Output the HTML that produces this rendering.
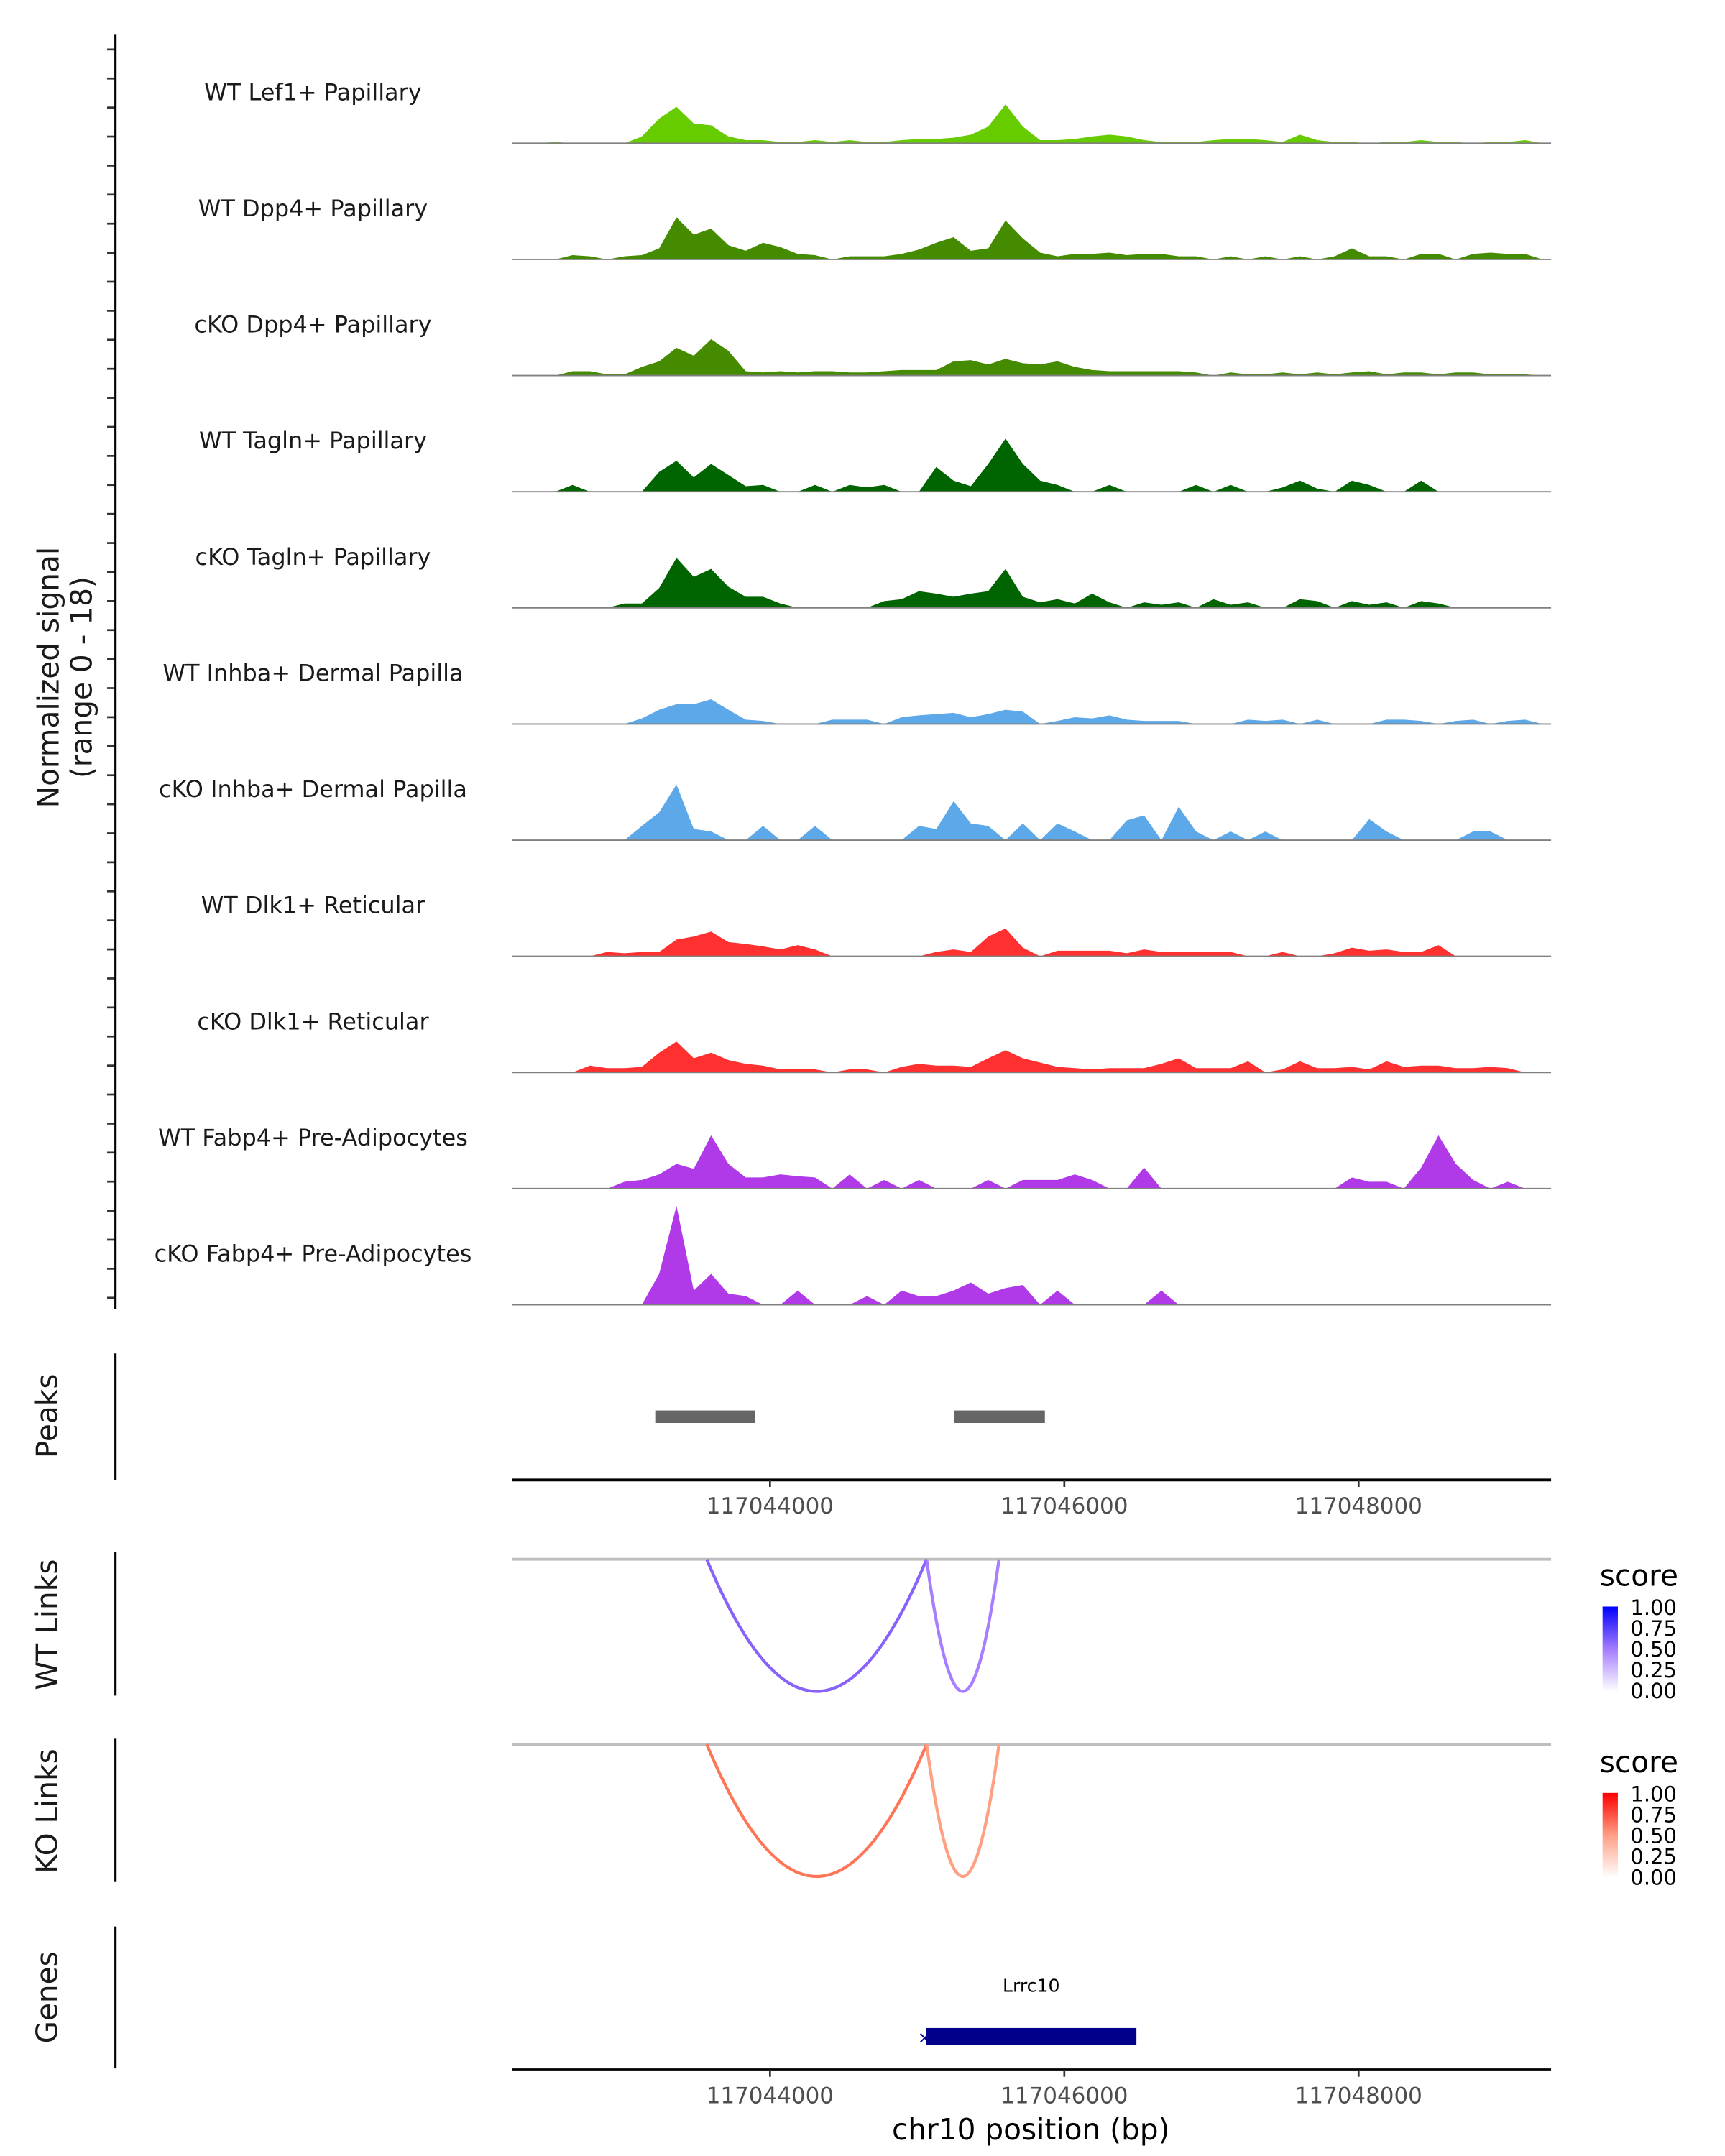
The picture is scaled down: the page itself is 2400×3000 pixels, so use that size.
<!DOCTYPE html>
<html><head><meta charset="utf-8"><style>
html,body{margin:0;padding:0;background:#fff}
svg{display:block}
text{font-family:"DejaVu Sans","Liberation Sans",sans-serif}
</style></head><body>
<svg id="chart" width="2400" height="3000" viewBox="0 0 1240 1550" xmlns="http://www.w3.org/2000/svg">
<g id="tracks"></g>
<g id="static">
 <line x1="83" y1="25" x2="83" y2="941" stroke="#000" stroke-width="1.6"/>
 <text transform="translate(42,487) rotate(-90)" text-anchor="middle" font-size="21" fill="#1a1a1a">Normalized signal</text>
 <text transform="translate(66,487) rotate(-90)" text-anchor="middle" font-size="21" fill="#1a1a1a">(range 0 - 18)</text>
 <line x1="83" y1="973" x2="83" y2="1064" stroke="#000" stroke-width="1.6"/>
 <text transform="translate(41,1018) rotate(-90)" text-anchor="middle" font-size="21" fill="#1a1a1a">Peaks</text>
 <line x1="83" y1="1116" x2="83" y2="1219" stroke="#000" stroke-width="1.6"/>
 <text transform="translate(41,1168) rotate(-90)" text-anchor="middle" font-size="21" fill="#1a1a1a">WT Links</text>
 <line x1="83" y1="1250" x2="83" y2="1353" stroke="#000" stroke-width="1.6"/>
 <text transform="translate(41,1302) rotate(-90)" text-anchor="middle" font-size="21" fill="#1a1a1a">KO Links</text>
 <line x1="83" y1="1385" x2="83" y2="1487" stroke="#000" stroke-width="1.6"/>
 <text transform="translate(41,1436) rotate(-90)" text-anchor="middle" font-size="21" fill="#1a1a1a">Genes</text>
 <line x1="368" y1="1121" x2="1115" y2="1121" stroke="#bebebe" stroke-width="2"/>
 <line x1="368" y1="1254" x2="1115" y2="1254" stroke="#bebebe" stroke-width="2"/>
 <line x1="368" y1="1064" x2="1115" y2="1064" stroke="#000" stroke-width="2"/>
 <line x1="368" y1="1488" x2="1115" y2="1488" stroke="#000" stroke-width="2"/>
 <text x="741" y="1538" text-anchor="middle" font-size="21" fill="#000">chr10 position (bp)</text>
 <defs>
  <linearGradient id="gBlue" x1="0" y1="1" x2="0" y2="0"><stop offset="0" stop-color="#ffffff"/><stop offset="0.5" stop-color="#a47cff"/><stop offset="1" stop-color="#0000ff"/></linearGradient>
  <linearGradient id="gRed" x1="0" y1="1" x2="0" y2="0"><stop offset="0" stop-color="#ffffff"/><stop offset="0.5" stop-color="#ff9f85"/><stop offset="1" stop-color="#ff0000"/></linearGradient>
 </defs>
 <g>
  <text x="1150" y="1140" font-size="21" fill="#000">score</text>
  <rect x="1152" y="1155" width="11" height="61" fill="url(#gBlue)"/>
  <g font-size="15" fill="#000"><text x="1172" y="1161">1.00</text><text x="1172" y="1176">0.75</text><text x="1172" y="1191">0.50</text><text x="1172" y="1206">0.25</text><text x="1172" y="1221">0.00</text></g>
 </g>
 <g>
  <text x="1150" y="1274" font-size="21" fill="#000">score</text>
  <rect x="1152" y="1289" width="11" height="61" fill="url(#gRed)"/>
  <g font-size="15" fill="#000"><text x="1172" y="1295">1.00</text><text x="1172" y="1310">0.75</text><text x="1172" y="1325">0.50</text><text x="1172" y="1340">0.25</text><text x="1172" y="1355">0.00</text></g>
 </g>
</g>
<g id="dyn"></g>
</svg>
<script>
const NS="http://www.w3.org/2000/svg";
const trackNames=["WT Lef1+ Papillary","WT Dpp4+ Papillary","cKO Dpp4+ Papillary","WT Tagln+ Papillary","cKO Tagln+ Papillary","WT Inhba+ Dermal Papilla","cKO Inhba+ Dermal Papilla","WT Dlk1+ Reticular","cKO Dlk1+ Reticular","WT Fabp4+ Pre-Adipocytes","cKO Fabp4+ Pre-Adipocytes"];
const trackColors=["#66cc00","#458b00","#458b00","#006400","#006400","#5ca8e8","#5ca8e8","#ff3030","#ff3030","#b03ae8","#b03ae8"];
const sigLef1WT=[0,0,0.2,0,0,0,0,1.1,4,5.9,3.2,2.9,1.1,0.5,0.5,0.2,0.2,0.5,0.2,0.5,0.2,0.2,0.5,0.7,0.7,0.9,1.4,2.7,6.3,2.7,0.5,0.5,0.7,1.1,1.4,1.1,0.5,0.2,0.2,0.2,0.5,0.7,0.7,0.5,0.2,1.4,0.5,0.2,0.2,0,0.2,0.2,0.5,0.2,0.2,0,0.2,0.2,0.5,0];
const sigDpp4WT=[0,0,0,0.7,0.5,0,0.5,0.7,1.8,6.8,4,5,2.3,1.4,2.7,2,0.9,0.7,0,0.5,0.5,0.5,0.9,1.6,2.7,3.6,1.4,1.8,6.3,3.4,1.1,0.5,0.9,0.9,1.1,0.7,0.9,0.9,0.5,0.5,0,0.5,0,0.5,0,0.5,0,0.5,1.8,0.5,0.5,0,0.9,0.9,0,0.9,1.1,0.9,0.9,0];
const sigDpp4KO=[0,0,0,0.7,0.7,0.2,0.2,1.4,2.3,4.5,3.2,5.9,4,0.7,0.5,0.7,0.5,0.7,0.7,0.5,0.5,0.7,0.9,0.9,0.9,2.3,2.5,1.8,2.7,2,1.8,2.3,1.4,0.9,0.7,0.7,0.7,0.7,0.7,0.5,0,0.5,0.2,0.2,0.5,0.2,0.5,0.2,0.5,0.7,0.2,0.5,0.5,0.2,0.5,0.5,0.2,0.2,0.2,0];
const sigTaglnWT=[0,0,0,1.1,0,0,0,0,3.2,5,2.3,4.5,2.7,0.9,1.1,0,0,1.1,0,1.1,0.7,1.1,0,0,4,1.8,0.9,4.5,8.6,4.5,1.8,1.1,0,0,1.1,0,0,0,0,1.1,0,1.1,0,0,0.7,1.8,0.5,0,1.8,1.1,0,0,1.8,0,0,0,0,0,0,0];
const sigTaglnKO=[0,0,0,0,0,0,0.7,0.7,3.2,8.1,5,6.3,3.4,1.8,1.8,0.7,0,0,0,0,0,1.1,1.4,2.7,2.3,1.8,2.3,2.7,6.3,1.8,0.9,1.4,0.7,2.3,0.9,0,0.9,0.5,0.9,0,1.4,0.5,0.9,0,0,1.4,1.1,0,1.1,0.5,0.9,0,1.1,0.7,0,0,0,0,0,0];
const sigInhbaWT=[0,0,0,0,0,0,0,0.9,2.3,3.2,3.2,4,2.3,0.7,0.5,0,0,0,0.7,0.7,0.7,0,1.1,1.4,1.6,1.8,1.1,1.6,2.3,2,0,0.5,1.1,0.9,1.4,0.7,0.5,0.5,0.5,0,0,0,0.7,0.5,0.7,0,0.7,0,0,0,0.7,0.7,0.5,0,0.5,0.7,0,0.5,0.7,0];
const sigInhbaKO=[0,0,0,0,0,0,0,2.3,4.5,9,1.8,1.4,0,0,2.3,0,0,2.3,0,0,0,0,0,2.3,1.8,6.3,2.7,2.3,0,2.7,0,2.7,1.4,0,0,3.2,4,0,5.4,1.4,0,1.4,0,1.4,0,0,0,0,0,3.4,1.4,0,0,0,0,1.4,1.4,0,0,0];
const sigDlk1WT=[0,0,0,0,0,0.7,0.5,0.7,0.7,2.7,3.2,4,2.3,2,1.6,1.1,1.8,1.1,0,0,0,0,0,0,0.7,1.1,0.7,3.2,4.5,1.4,0,0.9,0.9,0.9,0.9,0.5,1.1,0.7,0.7,0.7,0.7,0.7,0,0,0.7,0,0,0.5,1.4,0.9,1.1,0.7,0.7,1.8,0,0,0,0,0,0];
const sigDlk1KO=[0,0,0,0,1.1,0.7,0.7,0.9,3.2,5,2.3,3.2,2,1.4,1.1,0.5,0.5,0.5,0,0.5,0.5,0,0.9,1.4,1.1,1.1,0.9,2.3,3.6,2.3,1.6,0.9,0.7,0.5,0.7,0.7,0.7,1.4,2.3,0.7,0.7,0.7,1.8,0,0.5,1.8,0.7,0.7,0.9,0.5,1.8,0.9,1.1,1.1,0.7,0.7,0.9,0.7,0,0];
const sigFabp4WT=[0,0,0,0,0,0,1.1,1.4,2.3,4,3.2,8.6,4,1.8,1.8,2.3,2,1.8,0,2.3,0,1.4,0,1.4,0,0,0,1.4,0,1.4,1.4,1.4,2.3,1.4,0,0,3.4,0,0,0,0,0,0,0,0,0,0,0,1.8,1.1,1.1,0,3.4,8.6,4,1.4,0,1.1,0,0];
const sigFabp4KO=[0,0,0,0,0,0,0,0,5,16,2.3,5,1.8,1.4,0,0,2.3,0,0,0,1.4,0,2.3,1.4,1.4,2.3,3.6,1.8,2.7,3.2,0,2.3,0,0,0,0,0,2.3,0,0,0,0,0,0,0,0,0,0,0,0,0,0,0,0,0,0,0,0,0,0];
const signals=[sigLef1WT,sigDpp4WT,sigDpp4KO,sigTaglnWT,sigTaglnKO,sigInhbaWT,sigInhbaKO,sigDlk1WT,sigDlk1KO,sigFabp4WT,sigFabp4KO];
const regionStart=117042246, regionEnd=117049308;
const xTicks=[117044000,117046000,117048000];
const peakStarts=[117043220,117045253];
const peakEnds=[117043900,117045868];
const wtLinkStarts=[117043570,117045064];
const wtLinkEnds=[117045064,117045556];
const wtLinkScores=[0.65,0.5];
const koLinkStarts=[117043570,117045064];
const koLinkEnds=[117045064,117045556];
const koLinkScores=[0.7,0.5];
const geneNames=["Lrrc10"];
const geneStarts=[117045060];
const geneEnds=[117046490];
const yMax=18;

const X0=368,X1=1115;
const xs=bp=>X0+(bp-regionStart)/(regionEnd-regionStart)*(X1-X0);
const baseY=i=>103+i*83.5;
const ys=(v,i)=>baseY(i)-v/yMax*80;
const tracks=document.getElementById('tracks');
const dyn=document.getElementById('dyn');
function mk(tag,attrs,parent){const e=document.createElementNS(NS,tag);for(const k in attrs)e.setAttribute(k,attrs[k]);parent.appendChild(e);return e;}

for(let t=369.5-20.87*16;t<=941;t+=20.87){
  if(t<27)continue;
  const tk=mk('line',{x1:77,x2:83,y1:t,y2:t,stroke:'#333','stroke-width':1.4},tracks);
  
  
}
signals.forEach((arr,i)=>{
  const g=mk('g',{},tracks);
  
  
  const lab=mk('text',{x:225,y:baseY(i)-31,'text-anchor':'middle','font-size':16.5,fill:'#1a1a1a'},g);
  lab.textContent=trackNames[i];
  
  
  const n=arr.length, bw=(regionEnd-regionStart)/n;
  let d='M'+X0+','+baseY(i);
  arr.forEach((v,j)=>{
    const c=xs(regionStart+(j+0.5)*bw);
    d+=' L'+c.toFixed(2)+','+ys(v,i).toFixed(2);
  });
  d+=' L'+X1+','+baseY(i)+' Z';
  const p=mk('path',{d:d,fill:trackColors[i]},g);
  
  
  const bl=mk('line',{x1:X0,x2:X1,y1:baseY(i),y2:baseY(i),stroke:'#808080','stroke-width':1},g);
  
  
});
peakStarts.forEach((s,i)=>{
  const r=mk('rect',{x:xs(s),y:1014,width:xs(peakEnds[i])-xs(s),height:9,fill:'#666666'},dyn);
  
  
});
[1064,1488].forEach(y0=>{
  xTicks.forEach(t=>{
    const l=mk('line',{x1:xs(t),x2:xs(t),y1:y0,y2:y0+5,stroke:'#333','stroke-width':1.4},dyn);
    
    
    const tx=mk('text',{x:xs(t),y:y0+24,'text-anchor':'middle','font-size':16,fill:'#4d4d4d'},dyn);
    tx.textContent=String(t);
    
    
  });
});
function lerpStops(stops,s){
  for(let k=0;k<stops.length-1;k++){
    const [a,ca]=stops[k],[b,cb]=stops[k+1];
    if(s<=b){const f=(s-a)/(b-a);const h=c=>[1,3,5].map(o=>parseInt(c.substr(o,2),16));
      const A=h(ca),B=h(cb);return 'rgb('+A.map((v,q)=>Math.round(v+(B[q]-v)*f)).join(',')+')';}
  }
  return stops[stops.length-1][1];
}
const blueStops=[[0,'#ffffff'],[0.25,'#ddd0ff'],[0.5,'#a67eff'],[0.75,'#7450f5'],[1,'#0000ff']];
const redStops=[[0,'#ffffff'],[0.25,'#ffd8cc'],[0.5,'#ffa082'],[0.75,'#ff6a4d'],[1,'#ff0000']];
function drawLinks(starts,ends,scores,y0,stops,nm){
  starts.forEach((s,i)=>{
    const a=xs(s),b=xs(ends[i]),depth=95;
    const p=mk('path',{d:'M'+a+','+y0+' Q'+((a+b)/2)+','+(y0+2*depth)+' '+b+','+y0,fill:'none',stroke:lerpStops(stops,scores[i]),'stroke-width':2.2},dyn);
    
    
  });
}
drawLinks(wtLinkStarts,wtLinkEnds,wtLinkScores,1121,blueStops,'wt-link-arc');
drawLinks(koLinkStarts,koLinkEnds,koLinkScores,1254,redStops,'ko-link-arc');
geneNames.forEach((g,i)=>{
  const a=xs(geneStarts[i]),b=xs(geneEnds[i]);
  const r=mk('rect',{x:a,y:1458,width:b-a,height:12,fill:'#00008b'},dyn);
  
  
  const ar=mk('text',{x:a-1,y:1469,'text-anchor':'middle','font-size':12,fill:'#00008b'},dyn);
  ar.textContent='×';
  
  
  const t=mk('text',{x:(a+b)/2,y:1432,'text-anchor':'middle','font-size':13,fill:'#000'},dyn);
  t.textContent=g;
  
  
});
</script>
</body></html>
